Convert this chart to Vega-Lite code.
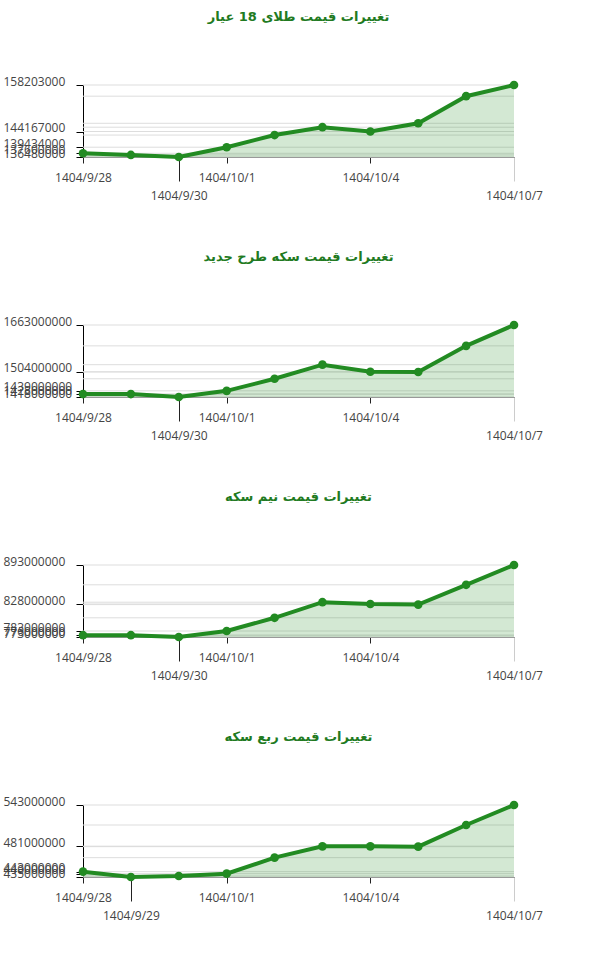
{
  "$schema": "https://vega.github.io/schema/vega-lite/v6.json",
  "padding": {"left": 3, "top": 11, "right": 10, "bottom": 5},
  "bounds": "flush",
  "spacing": 168,
  "data": {
    "values": [
      {"chart": "gold18", "date": "1404/9/28", "price": 137600000},
      {"chart": "gold18", "date": "1404/9/29", "price": 137100000},
      {"chart": "gold18", "date": "1404/9/30", "price": 136480000},
      {"chart": "gold18", "date": "1404/10/1", "price": 139434000},
      {"chart": "gold18", "date": "1404/10/2", "price": 143100000},
      {"chart": "gold18", "date": "1404/10/3", "price": 145470000},
      {"chart": "gold18", "date": "1404/10/4", "price": 144167000},
      {"chart": "gold18", "date": "1404/10/5", "price": 146650000},
      {"chart": "gold18", "date": "1404/10/6", "price": 154830000},
      {"chart": "gold18", "date": "1404/10/7", "price": 158203000},
      {"chart": "emami", "date": "1404/9/28", "price": 1428000000},
      {"chart": "emami", "date": "1404/9/29", "price": 1428000000},
      {"chart": "emami", "date": "1404/9/30", "price": 1418000000},
      {"chart": "emami", "date": "1404/10/1", "price": 1439000000},
      {"chart": "emami", "date": "1404/10/2", "price": 1480000000},
      {"chart": "emami", "date": "1404/10/3", "price": 1528000000},
      {"chart": "emami", "date": "1404/10/4", "price": 1504000000},
      {"chart": "emami", "date": "1404/10/5", "price": 1503000000},
      {"chart": "emami", "date": "1404/10/6", "price": 1592000000},
      {"chart": "emami", "date": "1404/10/7", "price": 1663000000},
      {"chart": "half", "date": "1404/9/28", "price": 776000000},
      {"chart": "half", "date": "1404/9/29", "price": 776000000},
      {"chart": "half", "date": "1404/9/30", "price": 773000000},
      {"chart": "half", "date": "1404/10/1", "price": 783000000},
      {"chart": "half", "date": "1404/10/2", "price": 805000000},
      {"chart": "half", "date": "1404/10/3", "price": 831000000},
      {"chart": "half", "date": "1404/10/4", "price": 828000000},
      {"chart": "half", "date": "1404/10/5", "price": 827000000},
      {"chart": "half", "date": "1404/10/6", "price": 860000000},
      {"chart": "half", "date": "1404/10/7", "price": 893000000},
      {"chart": "quarter", "date": "1404/9/28", "price": 443000000},
      {"chart": "quarter", "date": "1404/9/29", "price": 435000000},
      {"chart": "quarter", "date": "1404/9/30", "price": 436500000},
      {"chart": "quarter", "date": "1404/10/1", "price": 440000000},
      {"chart": "quarter", "date": "1404/10/2", "price": 464000000},
      {"chart": "quarter", "date": "1404/10/3", "price": 481000000},
      {"chart": "quarter", "date": "1404/10/4", "price": 481000000},
      {"chart": "quarter", "date": "1404/10/5", "price": 480500000},
      {"chart": "quarter", "date": "1404/10/6", "price": 513000000},
      {"chart": "quarter", "date": "1404/10/7", "price": 543000000}
    ]
  },
  "vconcat": [
    {
      "title": {"text": "تغییرات قیمت طلای 18 عیار"},
      "width": 431,
      "height": 72,
      "transform": [{"filter": "datum.chart == 'gold18'"}],
      "encoding": {
        "y": {
          "field": "price",
          "type": "quantitative",
          "stack": null,
          "scale": {"zero": false, "nice": false},
          "axis": {"values": [158203000, 144167000, 139434000, 137600000, 136480000]}
        }
      },
      "layer": [
        {"mark": {"type": "rule", "color": "#dddddd", "strokeWidth": 1}, "encoding": {}},
        {
          "mark": {"type": "area", "color": "#228b22", "opacity": 0.2},
          "encoding": {
            "x": {
              "field": "date",
              "type": "ordinal",
              "sort": null,
              "scale": {"type": "point", "padding": 0},
              "axis": {
                "values": ["1404/9/28", "1404/9/30", "1404/10/1", "1404/10/4", "1404/10/7"],
                "tickSize": {"condition": {"test": "datum.value == '1404/9/30' || datum.value == '1404/10/7'", "value": 24}, "value": 6},
                "tickColor": {"condition": {"test": "datum.value == '1404/10/7'", "value": "#cccccc"}, "value": "#222222"}
              }
            }
          }
        },
        {"mark": {"type": "line", "color": "#228b22", "strokeWidth": 4}, "encoding": {"x": {"field": "date", "type": "ordinal", "sort": null}}},
        {"mark": {"type": "point", "filled": true, "color": "#228b22", "size": 75, "opacity": 1}, "encoding": {"x": {"field": "date", "type": "ordinal", "sort": null}}}
      ]
    },
    {
      "title": {"text": "تغییرات قیمت سکه طرح جدید"},
      "width": 431,
      "height": 72,
      "transform": [{"filter": "datum.chart == 'emami'"}],
      "encoding": {
        "y": {
          "field": "price",
          "type": "quantitative",
          "stack": null,
          "scale": {"zero": false, "nice": false},
          "axis": {"values": [1663000000, 1504000000, 1439000000, 1428000000, 1418000000]}
        }
      },
      "layer": [
        {"mark": {"type": "rule", "color": "#dddddd", "strokeWidth": 1}, "encoding": {}},
        {
          "mark": {"type": "area", "color": "#228b22", "opacity": 0.2},
          "encoding": {
            "x": {
              "field": "date",
              "type": "ordinal",
              "sort": null,
              "scale": {"type": "point", "padding": 0},
              "axis": {
                "values": ["1404/9/28", "1404/9/30", "1404/10/1", "1404/10/4", "1404/10/7"],
                "tickSize": {"condition": {"test": "datum.value == '1404/9/30' || datum.value == '1404/10/7'", "value": 24}, "value": 6},
                "tickColor": {"condition": {"test": "datum.value == '1404/10/7'", "value": "#cccccc"}, "value": "#222222"}
              }
            }
          }
        },
        {"mark": {"type": "line", "color": "#228b22", "strokeWidth": 4}, "encoding": {"x": {"field": "date", "type": "ordinal", "sort": null}}},
        {"mark": {"type": "point", "filled": true, "color": "#228b22", "size": 75, "opacity": 1}, "encoding": {"x": {"field": "date", "type": "ordinal", "sort": null}}}
      ]
    },
    {
      "title": {"text": "تغییرات قیمت نیم سکه"},
      "width": 431,
      "height": 72,
      "transform": [{"filter": "datum.chart == 'half'"}],
      "encoding": {
        "y": {
          "field": "price",
          "type": "quantitative",
          "stack": null,
          "scale": {"zero": false, "nice": false},
          "axis": {"values": [893000000, 828000000, 783000000, 776000000, 773000000]}
        }
      },
      "layer": [
        {"mark": {"type": "rule", "color": "#dddddd", "strokeWidth": 1}, "encoding": {}},
        {
          "mark": {"type": "area", "color": "#228b22", "opacity": 0.2},
          "encoding": {
            "x": {
              "field": "date",
              "type": "ordinal",
              "sort": null,
              "scale": {"type": "point", "padding": 0},
              "axis": {
                "values": ["1404/9/28", "1404/9/30", "1404/10/1", "1404/10/4", "1404/10/7"],
                "tickSize": {"condition": {"test": "datum.value == '1404/9/30' || datum.value == '1404/10/7'", "value": 24}, "value": 6},
                "tickColor": {"condition": {"test": "datum.value == '1404/10/7'", "value": "#cccccc"}, "value": "#222222"}
              }
            }
          }
        },
        {"mark": {"type": "line", "color": "#228b22", "strokeWidth": 4}, "encoding": {"x": {"field": "date", "type": "ordinal", "sort": null}}},
        {"mark": {"type": "point", "filled": true, "color": "#228b22", "size": 75, "opacity": 1}, "encoding": {"x": {"field": "date", "type": "ordinal", "sort": null}}}
      ]
    },
    {
      "title": {"text": "تغییرات قیمت ربع سکه"},
      "width": 431,
      "height": 72,
      "transform": [{"filter": "datum.chart == 'quarter'"}],
      "encoding": {
        "y": {
          "field": "price",
          "type": "quantitative",
          "stack": null,
          "scale": {"zero": false, "nice": false},
          "axis": {"values": [543000000, 481000000, 443000000, 440000000, 435000000]}
        }
      },
      "layer": [
        {"mark": {"type": "rule", "color": "#dddddd", "strokeWidth": 1}, "encoding": {}},
        {
          "mark": {"type": "area", "color": "#228b22", "opacity": 0.2},
          "encoding": {
            "x": {
              "field": "date",
              "type": "ordinal",
              "sort": null,
              "scale": {"type": "point", "padding": 0},
              "axis": {
                "values": ["1404/9/28", "1404/9/29", "1404/10/1", "1404/10/4", "1404/10/7"],
                "tickSize": {"condition": {"test": "datum.value == '1404/9/29' || datum.value == '1404/10/7'", "value": 24}, "value": 6},
                "tickColor": {"condition": {"test": "datum.value == '1404/10/7'", "value": "#cccccc"}, "value": "#222222"}
              }
            }
          }
        },
        {"mark": {"type": "line", "color": "#228b22", "strokeWidth": 4}, "encoding": {"x": {"field": "date", "type": "ordinal", "sort": null}}},
        {"mark": {"type": "point", "filled": true, "color": "#228b22", "size": 75, "opacity": 1}, "encoding": {"x": {"field": "date", "type": "ordinal", "sort": null}}}
      ]
    }
  ],
  "config": {
    "view": {"stroke": null},
    "font": "Open Sans",
    "title": {
      "font": "DejaVu Sans",
      "fontSize": 13,
      "fontWeight": "bold",
      "color": "#217a21",
      "anchor": "middle",
      "offset": 51
    },
    "axisX": {
      "title": null,
      "labelAngle": 0,
      "labelOverlap": false,
      "labelBaseline": "top",
      "labelPadding": 9,
      "labelFontSize": 12,
      "labelColor": "#444444",
      "domainColor": "#555555",
      "grid": false
    },
    "axisY": {
      "title": null,
      "format": "d",
      "grid": false,
      "labelOverlap": false,
      "labelAlign": "left",
      "labelPadding": 73,
      "labelOffset": -4,
      "tickSize": 7,
      "tickColor": "#000000",
      "domainColor": "#000000",
      "labelFontSize": 12,
      "labelColor": "#444444"
    }
  }
}
